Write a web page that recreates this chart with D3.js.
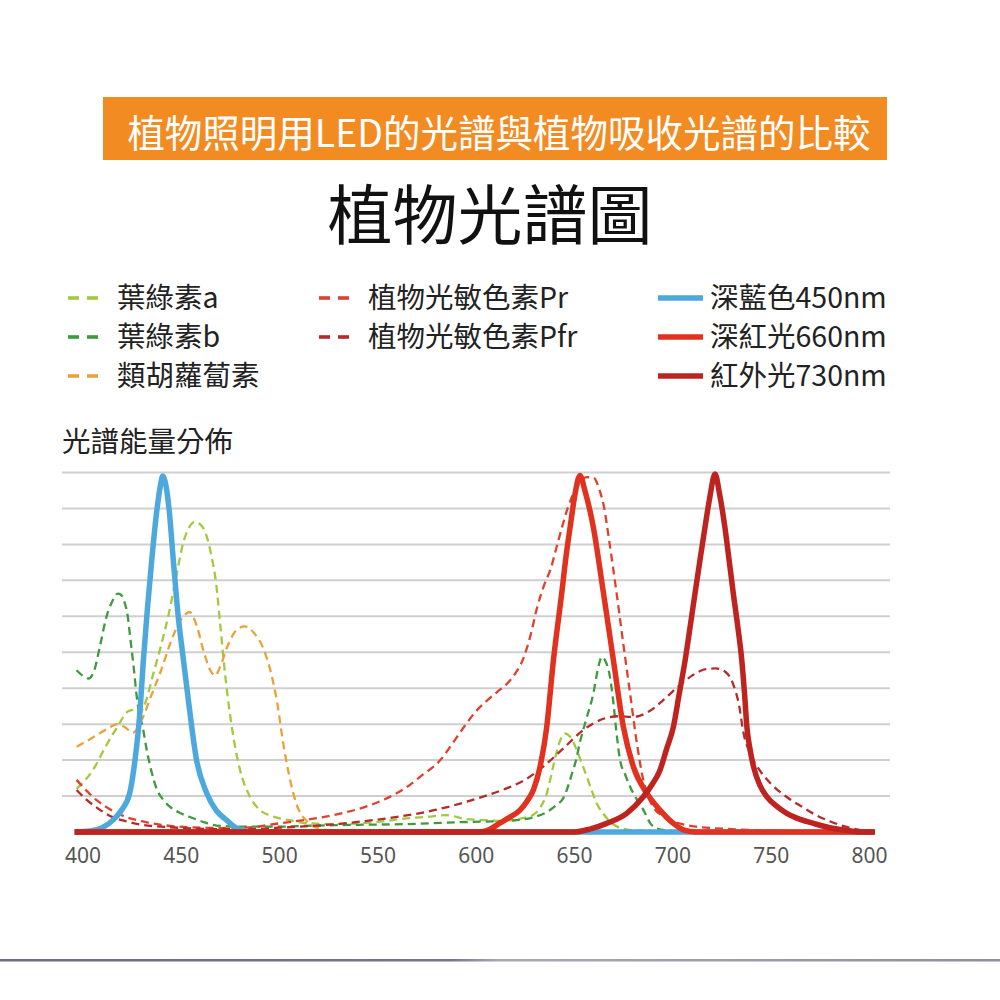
<!DOCTYPE html>
<html>
<head>
<meta charset="utf-8">
<script src="https://cdn.jsdelivr.net/npm/d3@7"></script>
<style>
  html, body { margin: 0; padding: 0; background: #fff; }
  svg { display: block; font-family: "Noto Sans CJK TC", "Noto Sans", sans-serif; }
</style>
</head>
<body>
<svg id="chart" width="1000" height="1000"></svg>
<script>
// ---------- data ----------
const titleText = "植物照明用LED的光譜與植物吸收光譜的比較";
const subtitleText = "植物光譜圖";
const yLabel = "光譜能量分佈";
const xTicks = [400, 450, 500, 550, 600, 650, 700, 750, 800];
const gridTicks = [1, 2, 3, 4, 5, 6, 7, 8, 9, 10];

// absorption curves [wavelength nm, relative level]
const chlA = [[397,1.2],[405,1.7],[412,2.4],[418,2.95],[423,3.35],[426,3.4],[429,3.3],[432,3.6],[436,4.4],[440,5.2],[444,6.1],[448,7.2],[451,8.0],[454,8.45],[457,8.62],[460,8.55],[463,8.25],[465.5,7.7],[468,6.9],[470,5.8],[472.5,4.4],[476,2.9],[480,1.75],[485,1.0],[490,0.62],[496,0.45],[505,0.33],[515,0.24],[530,0.22],[550,0.28],[565,0.38],[577,0.43],[585,0.47],[595,0.36],[605,0.33],[612,0.31],[620,0.35],[629,0.47],[633,0.7],[636,1.05],[639.5,1.85],[642,2.4],[645.4,2.74],[648,2.65],[651.4,2.28],[654,1.9],[656.5,1.54],[659,1.15],[661.5,0.8],[665,0.5],[668,0.3],[672,0.15],[680,0.05],[700,0.02]];
const chlB = [[397,4.5],[400,4.35],[403,4.27],[406,4.5],[409,5.2],[412,5.95],[415,6.4],[418,6.63],[419.5,6.6],[421,6.45],[423,6.0],[424.5,5.3],[426,4.6],[427.5,3.8],[429,3.25],[430.5,2.95],[432.6,2.3],[435,1.7],[437.7,1.2],[441,0.9],[444.5,0.7],[450,0.52],[456,0.39],[462,0.27],[468,0.18],[480,0.15],[500,0.15],[520,0.18],[540,0.2],[565,0.22],[590,0.27],[605,0.29],[619,0.32],[630,0.42],[636,0.55],[641,0.75],[644.6,0.95],[646.5,1.2],[648.8,1.6],[651,2.0],[653,2.5],[656,3.1],[659.8,3.85],[662,4.5],[664.1,4.87],[666,4.75],[668.3,4.3],[670,3.6],[671.5,2.8],[673.4,2.0],[676,1.6],[678.5,1.26],[682,0.9],[685.3,0.61],[688.8,0.24],[692,0.1],[700,0.03]];
const carot = [[397,2.37],[405,2.62],[412,2.85],[418,3.0],[422,2.9],[425.5,2.76],[430,3.1],[435,3.8],[440,4.5],[445,5.3],[450,5.9],[454.5,6.12],[458,5.75],[462,4.95],[465,4.5],[467.5,4.35],[470,4.6],[474,5.2],[478,5.6],[482.5,5.72],[487,5.55],[492,5.1],[496,4.4],[499,3.6],[502,2.5],[505,1.6],[509,0.75],[514,0.3],[520,0.1],[530,0.02]];
const phyPr = [[397,1.45],[402,1.15],[408,0.85],[415,0.6],[422,0.42],[430,0.3],[440,0.2],[455,0.13],[470,0.11],[485,0.13],[500,0.24],[515,0.35],[530,0.5],[545,0.72],[556,0.97],[565,1.25],[572,1.55],[582,2.0],[588,2.45],[594,2.92],[600,3.35],[606,3.67],[611,3.9],[616,4.13],[620,4.4],[624,4.8],[628,5.5],[631,6.2],[635,6.9],[638,7.3],[641,7.9],[644,8.5],[647,9.05],[650,9.45],[653,9.72],[656.5,9.87],[660,9.85],[663,9.5],[665,9.1],[668,8.05],[671.5,6.7],[675,5.25],[678.5,3.85],[682,2.45],[685,1.5],[690,0.72],[695,0.45],[699,0.33],[705,0.22],[712,0.15],[730,0.08],[760,0.03],[800,0.0]];
const phyPfr = [[397,1.17],[402,0.9],[408,0.65],[415,0.42],[422,0.3],[430,0.2],[440,0.15],[455,0.1],[470,0.08],[485,0.08],[500,0.12],[520,0.18],[540,0.28],[560,0.42],[580,0.62],[600,0.92],[615,1.2],[625,1.45],[635,1.85],[645,2.35],[655,2.85],[665,3.15],[672,3.22],[680,3.2],[688,3.35],[695,3.65],[702,4.0],[710,4.35],[717,4.53],[722,4.55],[727,4.45],[731,4.1],[734,3.5],[736,2.8],[739,2.25],[744,1.75],[750,1.35],[758,0.98],[766,0.7],[772,0.5],[780,0.3],[790,0.12],[800,0.02]];

// LED emission curves
const led450 = [[396,0],[404,0.03],[410,0.12],[415.5,0.33],[420,0.62],[424,1.08],[426.7,2.0],[429,3.2],[431,4.8],[433,6.2],[435.2,7.55],[437.5,8.8],[439.5,9.6],[440.8,9.9],[442,9.75],[444,9.0],[446.2,7.55],[448.5,6.1],[451.3,4.8],[454,3.6],[458,2.0],[463.2,1.08],[468,0.6],[473.3,0.33],[478,0.12],[483,0.02],[490,0],[803,0]];
const led660 = [[396,0],[602,0],[608,0.1],[612,0.24],[617,0.4],[622.5,0.61],[626,0.85],[629.3,1.17],[632.7,1.81],[636.1,2.92],[639.5,4.78],[643.7,6.63],[646,7.7],[648,8.48],[650.5,9.4],[653,9.92],[655.5,9.5],[659.8,8.48],[665,6.63],[670,4.78],[675.1,2.92],[680.2,1.81],[687,1.08],[693.7,0.61],[700.5,0.24],[706,0.05],[712,0],[803,0]];
const led730 = [[396,0],[650,0],[658,0.08],[666.6,0.24],[676.8,0.52],[685.2,0.98],[690,1.35],[693.7,1.72],[697,2.3],[700.5,2.92],[703.5,3.85],[706.5,4.78],[709,5.7],[711.5,6.63],[714,7.55],[716.6,8.48],[719,9.3],[721.7,9.96],[724,9.4],[726.7,8.48],[729,7.5],[731,6.63],[733.3,5.7],[735.3,4.78],[736.7,3.85],[737.9,2.92],[739.5,2.3],[741.3,1.81],[744.5,1.3],[748.1,0.98],[753,0.72],[758.2,0.52],[765,0.35],[771.7,0.24],[780,0.12],[788,0.05],[796,0],[803,0]];

const dashedNames = ["葉綠素a", "葉綠素b", "類胡蘿蔔素", "植物光敏色素Pr", "植物光敏色素Pfr"];
const dashedSeries = [chlA, chlB, carot, phyPr, phyPfr];
const ledNames = ["深藍色450nm", "深紅光660nm", "紅外光730nm"];
const ledSeries = [led450, led660, led730];

// ---------- styling ----------
const dashedColors = ["#a3c93d", "#3e9a3e", "#e9a23a", "#e0402c", "#b52b2a"];
const ledColors = ["#4da8de", "#e0321f", "#bd241f"];

const svg = d3.select("#chart");

// title bar
svg.append("rect").attr("x", 103).attr("y", 97).attr("width", 784).attr("height", 63).attr("fill", "#f28b22");
svg.append("text").attr("x", 499).attr("y", 147).attr("text-anchor", "middle")
  .attr("font-size", 37.5).attr("fill", "#fff").text(titleText);
svg.append("text").attr("x", 490).attr("y", 239).attr("text-anchor", "middle")
  .attr("font-size", 65).attr("fill", "#111").text(subtitleText);

// legend
const legFont = 28.5;
function dashMark(x, y, color) {
  [0, 19].forEach((o) => svg.append("rect").attr("x", x + o).attr("y", y - 1.8).attr("width", 11).attr("height", 3.6).attr("fill", color));
}
const dashPos = [[68, 298], [68, 337], [68, 376], [319, 298], [319, 337]];
dashedNames.forEach((n, i) => {
  const [x, y] = dashPos[i];
  dashMark(x, y, dashedColors[i]);
  svg.append("text").attr("x", x + 49).attr("y", y + 10).attr("font-size", legFont).attr("fill", "#222").text(n);
});
ledNames.forEach((n, i) => {
  const y = 298 + i * 39;
  svg.append("line").attr("x1", 658).attr("x2", 703).attr("y1", y).attr("y2", y)
    .attr("stroke", ledColors[i]).attr("stroke-width", 5.5);
  svg.append("text").attr("x", 710).attr("y", y + 10).attr("font-size", legFont).attr("fill", "#222").text(n);
});

svg.append("text").attr("x", 62).attr("y", 452).attr("font-size", legFont).attr("fill", "#222").text(yLabel);

// ---------- plot ----------
const x = d3.scaleLinear().domain([400, 800]).range([82.5, 869]);
const y = d3.scaleLinear().domain([0, 10]).range([832, 472.5]);

// gridlines
svg.append("g").selectAll("line").data(gridTicks).join("line")
  .attr("x1", 62).attr("x2", 890)
  .attr("y1", (d) => y(d)).attr("y2", (d) => y(d))
  .attr("stroke", "#cfcfcf").attr("stroke-width", 2);

const line = d3.line().x((d) => x(d[0])).y((d) => y(d[1])).curve(d3.curveMonotoneX);

svg.append("g").selectAll("path").data(dashedSeries).join("path")
  .attr("d", line).attr("fill", "none")
  .attr("stroke", (d, i) => dashedColors[i])
  .attr("stroke-width", 2.3).attr("stroke-dasharray", "8,5");

svg.append("g").selectAll("path").data(ledSeries).join("path")
  .attr("d", line).attr("fill", "none")
  .attr("stroke", (d, i) => ledColors[i])
  .attr("stroke-width", 5.5).attr("stroke-linejoin", "round");

// x axis
const ax = svg.append("g").attr("transform", `translate(0,${y(0)})`)
  .call(d3.axisBottom(x).tickValues(xTicks).tickSize(0).tickPadding(16));
ax.select(".domain").remove();
ax.selectAll("text").attr("font-size", 21).attr("fill", "#555")
  .attr("font-family", "'Noto Sans', sans-serif");

// bottom separator line
const grad = svg.append("defs").append("linearGradient").attr("id", "sep");
grad.append("stop").attr("offset", "0").attr("stop-color", "#6e6e82");
grad.append("stop").attr("offset", "0.45").attr("stop-color", "#74748a");
grad.append("stop").attr("offset", "0.5").attr("stop-color", "#a9a9b8");
grad.append("stop").attr("offset", "1").attr("stop-color", "#8d8d9c");
svg.append("rect").attr("x", 0).attr("y", 959).attr("width", 1000).attr("height", 2.5).attr("fill", "url(#sep)");
</script>
</body>
</html>
